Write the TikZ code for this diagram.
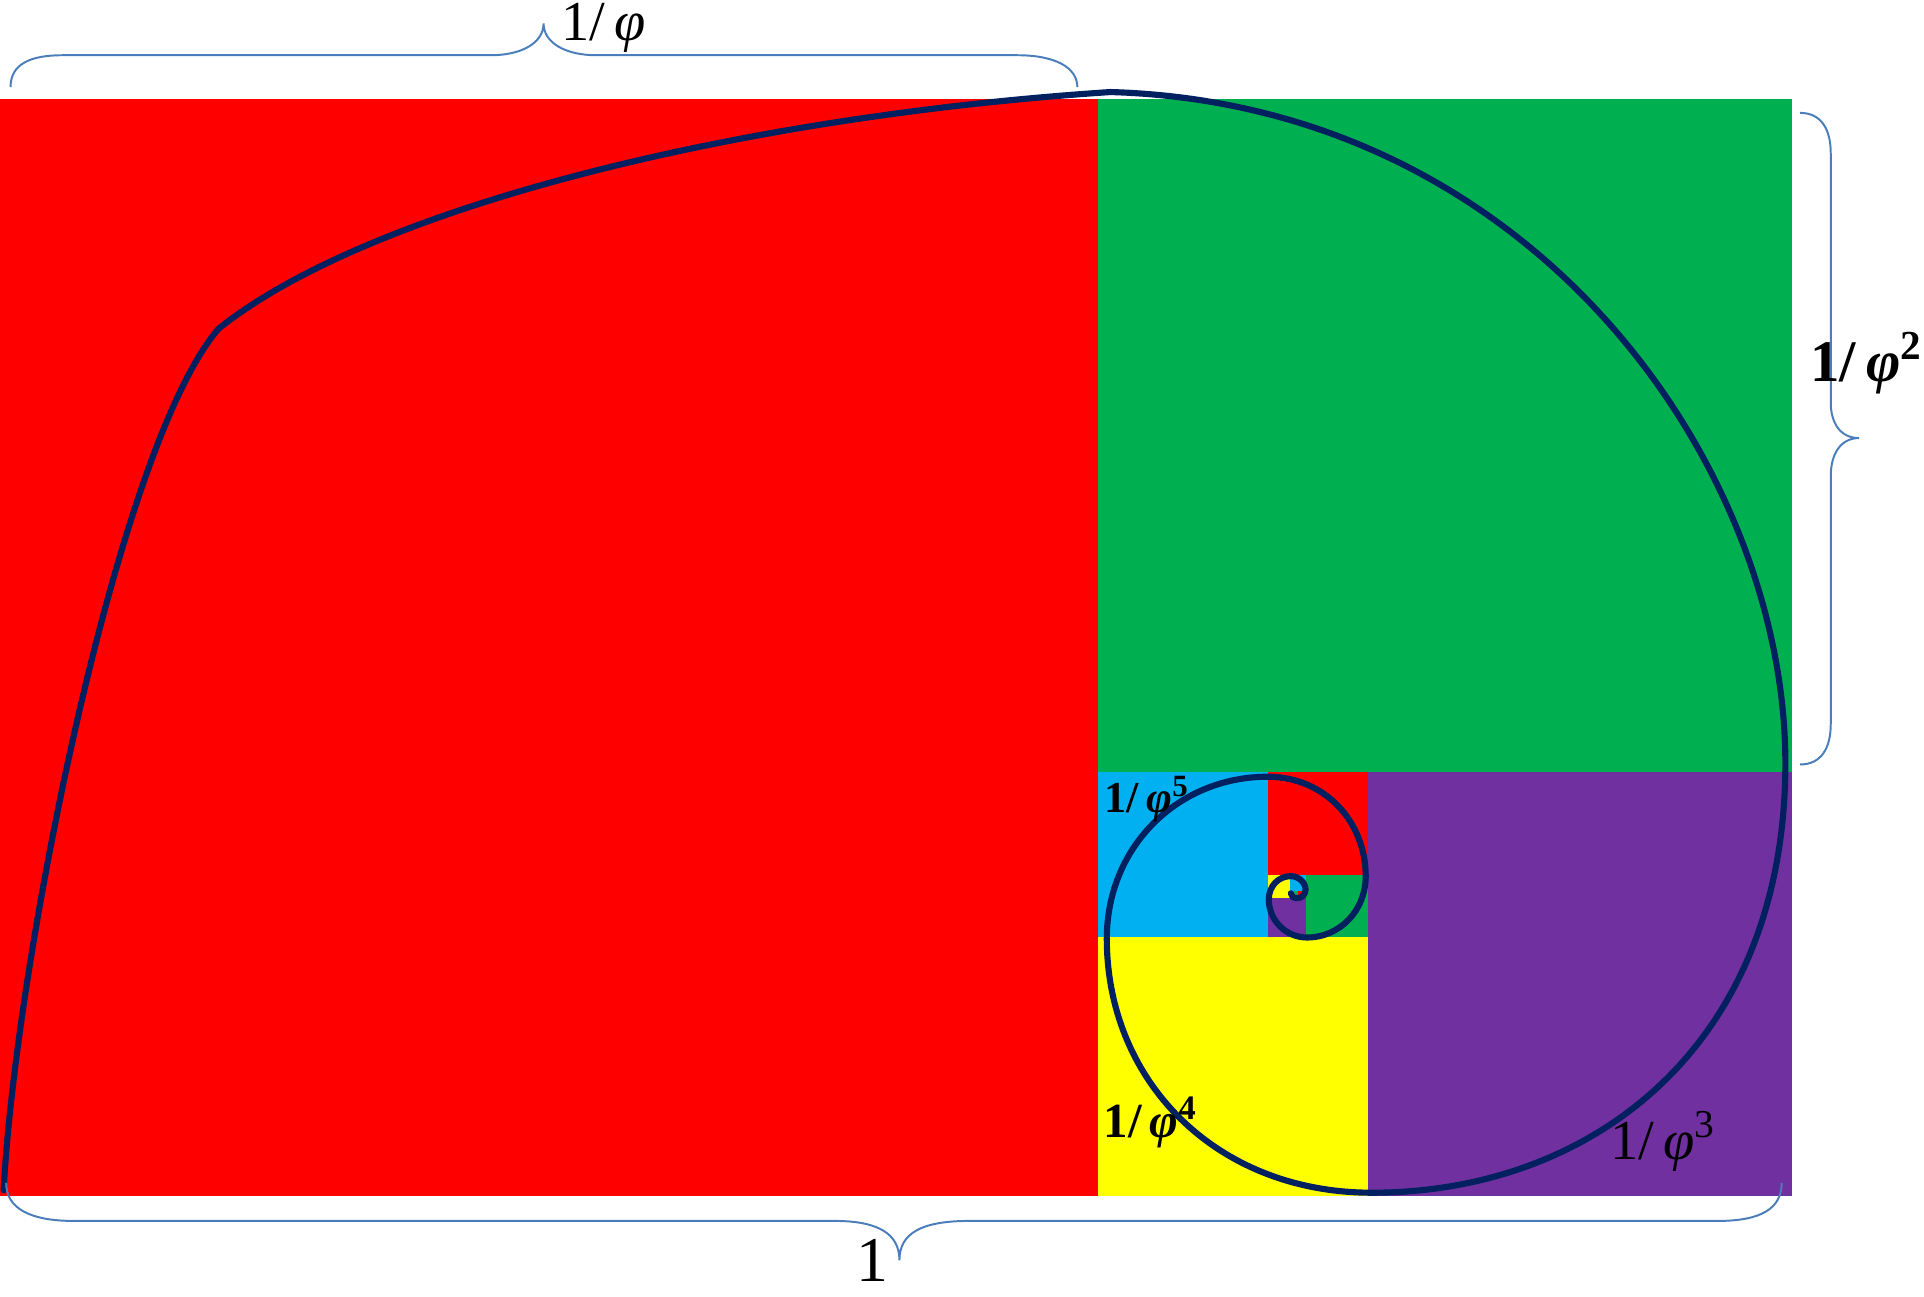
\documentclass[tikz,border=0pt]{standalone}
\usepackage{fontspec}
\setmainfont{Liberation Serif}
\definecolor{cRed}{HTML}{FF0000}
\definecolor{cGreen}{HTML}{00B050}
\definecolor{cPurple}{HTML}{7030A0}
\definecolor{cYellow}{HTML}{FFFF00}
\definecolor{cCyan}{HTML}{00B0F0}
\definecolor{cNavy}{HTML}{002060}
\definecolor{cBrace}{HTML}{4A7EBB}
\begin{document}
\begin{tikzpicture}[x=0.5pt,y=-0.5pt,
  spiral/.style={draw=cNavy,line width=2.5pt,line cap=round,line join=round},
  bracepath/.style={draw=cBrace,line width=0.8pt},
  lbl/.style={inner sep=0pt,anchor=base west,text=black}]
\useasboundingbox (0,0) rectangle (1568,1057);
% squares
\fill[cRed] (0,81) rectangle (895,975);
\fill[cGreen] (895,81) rectangle (1460,629);
\fill[cPurple] (1115,629) rectangle (1460,975);
\fill[cYellow] (895,764) rectangle (1115,975);
\fill[cCyan] (895,629) rectangle (1033,764);
\fill[cRed] (1033,629) rectangle (1115,713);
\fill[cGreen] (1064,713) rectangle (1115,764);
\fill[cPurple] (1033,732) rectangle (1064,764);
\fill[cYellow] (1033,713) rectangle (1051,732);
\fill[cCyan] (1051,713) rectangle (1064,726);
\fill[cRed] (1058,726) rectangle (1064,732);
\fill[cGreen] (1051,726) rectangle (1058,732);
% spiral
\draw[spiral] (3,970) .. controls (12,790) and (95,365) .. (178,268)
  .. controls (300,170) and (600,95) .. (905,75)
  .. controls (1250,85) and (1455,380) .. (1455,622)
  .. controls (1455,850) and (1300,972) .. (1118,972)
  .. controls (990,972) and (902,880) .. (902,765)
  .. controls (902,690) and (960,633) .. (1033,633)
  .. controls (1080,633) and (1113,670) .. (1113,714)
  .. controls (1113,742) and (1092,764) .. (1065,764)
  .. controls (1048,764) and (1034,750) .. (1034,733)
  .. controls (1034,722) and (1042,714) .. (1052,714)
  .. controls (1058,714) and (1064,719) .. (1064,725)
  .. controls (1064,729) and (1061,732) .. (1057,732)
  .. controls (1054,732) and (1052,730) .. (1052,728);
% braces
\draw[bracepath] (8.6,71) .. controls (8.6,52) and (25,45) .. (51,45) -- (400,45)
  .. controls (425,45) and (443,35) .. (443,19)
  .. controls (443,35) and (461,45) .. (486,45) -- (829,45)
  .. controls (860,45) and (878,55) .. (878,71);
\draw[bracepath] (5,964) .. controls (5,985) and (25,995) .. (60,995) -- (680,995)
  .. controls (715,995) and (733,1005) .. (733,1027)
  .. controls (733,1005) and (751,995) .. (790,995) -- (1400,995)
  .. controls (1435,995) and (1452,985) .. (1452,964);
\draw[bracepath] (1467,92) .. controls (1484,92) and (1492,105) .. (1492,125) -- (1492,328)
  .. controls (1492,345) and (1500,357) .. (1515,357)
  .. controls (1500,357) and (1492,370) .. (1492,388) -- (1492,590)
  .. controls (1492,610) and (1484,623) .. (1467,623);
% labels
\node[lbl,font=\fontsize{23}{23}\selectfont] (ltop) at (457,33) {1/\,\textit{φ}};
\node[lbl,font=\bfseries\fontsize{24}{24}\selectfont] (lright) at (1475,311) {1/\,\textit{φ}\textsuperscript{2}};
\node[lbl,font=\fontsize{23}{23}\selectfont] (lthree) at (1312,945) {1/\,\textit{φ}\textsuperscript{3}};
\node[lbl,font=\bfseries\fontsize{20}{20}\selectfont] (lfour) at (899,927) {1/\,\textit{φ}\textsuperscript{4}};
\node[lbl,font=\bfseries\fontsize{18}{18}\selectfont] (lfive) at (900,662) {1/\,\textit{φ}\textsuperscript{5}};
\node[inner sep=0pt,anchor=base,font=\fontsize{26}{26}\selectfont] (lone) at (711,1044) {1};
\end{tikzpicture}
\end{document}
